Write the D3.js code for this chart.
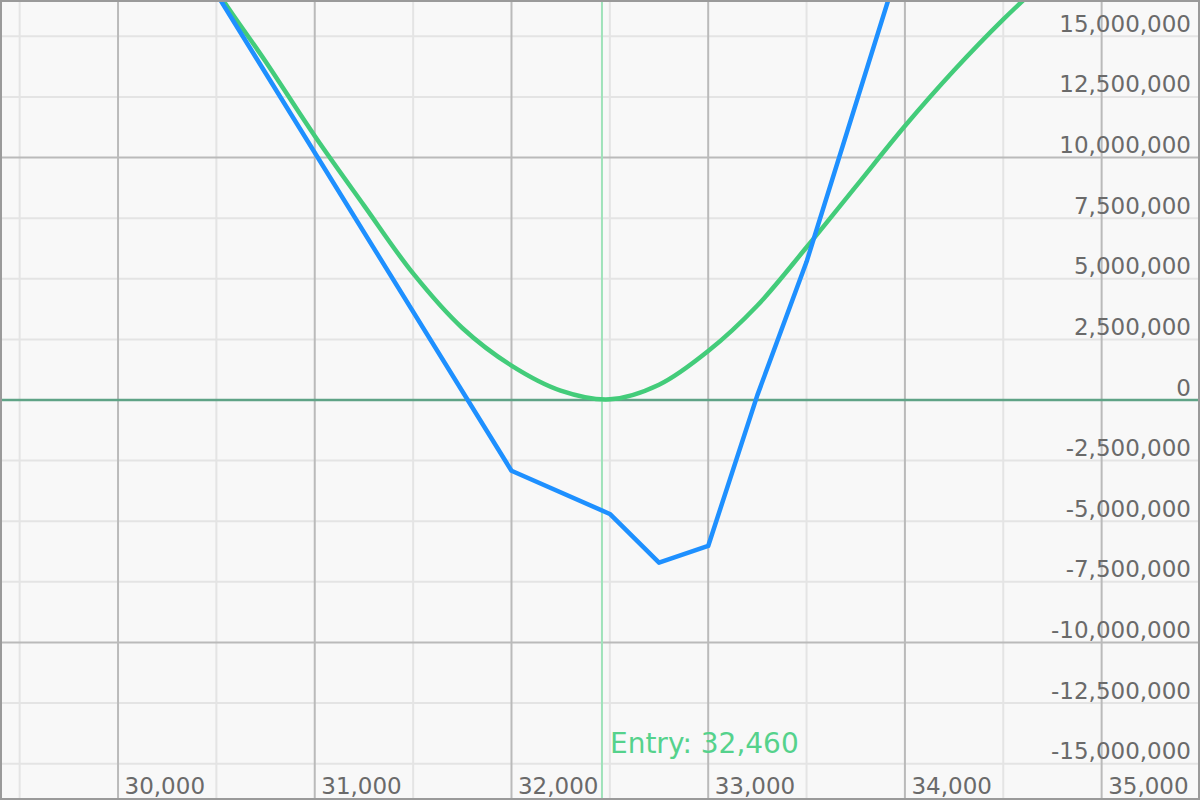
<!DOCTYPE html>
<html>
<head>
<meta charset="utf-8">
<script src="https://cdn.jsdelivr.net/npm/d3@7/dist/d3.min.js"></script>
<style>
  html, body { margin: 0; padding: 0; background: #fff; }
  svg { display: block; }
</style>
</head>
<body>
<svg id="chart" width="1200" height="800"></svg>
<script>
// ---- data ----
const xTickLabels = [30000, 31000, 32000, 33000, 34000, 35000];
const xMinorGrid = [29500, 30500, 31500, 32500, 33500, 34500, 35500];
const yTickLabels = [15e6, 12.5e6, 10e6, 7.5e6, 5e6, 2.5e6, 0, -2.5e6, -5e6, -7.5e6, -10e6, -12.5e6, -15e6];
const yMajorGrid = [10e6, -10e6];
const entryPrice = 32460;

// P&L at expiry (blue)
const expiryPrices = [29400, 32000, 32500, 32750, 33000, 33250, 33500, 34000];
const expiryPnl = [31.2e6, -2.92e6, -4.70e6, -6.71e6, -6.02e6, 0.2e6, 5.7e6, 18.7e6];

// P&L today (green)
const todayPrices = [29400, 30000, 30500, 30750, 31000, 31250, 31500, 31750, 32000, 32250, 32500, 32750, 33000, 33250, 33500, 33750, 34000, 34250, 34500, 34750, 35000, 35500];
const todayPnl = [31.3e6, 23.4e6, 16.9e6, 13.96e6, 10.89e6, 8.03e6, 5.22e6, 2.97e6, 1.42e6, 0.39e6, 0.03e6, 0.63e6, 2.02e6, 3.9e6, 6.3e6, 8.8e6, 11.3e6, 13.6e6, 15.7e6, 17.6e6, 19.4e6, 22.6e6];

// ---- chart ----
const W = 1200, H = 800;
const svg = d3.select("#chart");
const x = d3.scaleLinear().domain([29400, 35500]).range([0, W]);
const y = d3.scaleLinear().domain([-16.5e6, 16.5e6]).range([H, 0]);
const fmt0 = d3.format(",");
const fmt = d => fmt0(d).replace("\u2212", "-");
const FONT = "'DejaVu Sans', Verdana, sans-serif";

svg.append("defs").append("clipPath").attr("id", "clip")
  .append("rect").attr("x", 0).attr("y", 0).attr("width", W).attr("height", H);

svg.append("rect").attr("width", W).attr("height", H).attr("fill", "#f8f8f8");

const grid = svg.append("g");
grid.selectAll(".hmin").data(yTickLabels.filter(v => v !== 0 && !yMajorGrid.includes(v)))
  .join("line").attr("x1", 0).attr("x2", W)
  .attr("y1", d => y(d)).attr("y2", d => y(d))
  .attr("stroke", "#e4e4e4").attr("stroke-width", 2);
grid.selectAll(".vmin").data(xMinorGrid)
  .join("line").attr("y1", 0).attr("y2", H)
  .attr("x1", d => x(d)).attr("x2", d => x(d))
  .attr("stroke", "#e4e4e4").attr("stroke-width", 2);
grid.selectAll(".vmaj").data(xTickLabels)
  .join("line").attr("y1", 0).attr("y2", H)
  .attr("x1", d => x(d)).attr("x2", d => x(d))
  .attr("stroke", "#bababa").attr("stroke-width", 2);
grid.selectAll(".hmaj").data(yMajorGrid)
  .join("line").attr("x1", 0).attr("x2", W)
  .attr("y1", d => y(d)).attr("y2", d => y(d))
  .attr("stroke", "#bababa").attr("stroke-width", 2);

// zero line
svg.append("line").attr("x1", 0).attr("x2", W)
  .attr("y1", y(0)).attr("y2", y(0))
  .attr("stroke", "#5fa386").attr("stroke-width", 2.5);

// entry line
svg.append("line").attr("x1", x(entryPrice)).attr("x2", x(entryPrice))
  .attr("y1", 0).attr("y2", H)
  .attr("stroke", "#9fe2ba").attr("stroke-width", 2);

svg.append("text")
  .attr("x", x(entryPrice) + 8).attr("y", 753)
  .attr("font-family", FONT).attr("font-size", 28)
  .attr("fill", "#55d28c")
  .text("Entry: " + fmt(entryPrice));

// lines
const plot = svg.append("g").attr("clip-path", "url(#clip)");
const todayData = todayPrices.map((p, i) => [p, todayPnl[i]]);
const expiryData = expiryPrices.map((p, i) => [p, expiryPnl[i]]);

plot.append("path").datum(todayData)
  .attr("fill", "none").attr("stroke", "#43cc7a").attr("stroke-width", 4.5)
  .attr("stroke-linejoin", "round")
  .attr("d", d3.line().x(d => x(d[0])).y(d => y(d[1])).curve(d3.curveCatmullRom.alpha(0.5)));

plot.append("path").datum(expiryData)
  .attr("fill", "none").attr("stroke", "#1e90ff").attr("stroke-width", 4.5)
  .attr("stroke-linejoin", "round")
  .attr("d", d3.line().x(d => x(d[0])).y(d => y(d[1])));

// x axis labels
const xAxis = svg.append("g").attr("transform", `translate(0,${H})`)
  .call(d3.axisBottom(x).tickValues(xTickLabels).tickSize(0).tickFormat(fmt));
xAxis.select(".domain").remove();
xAxis.selectAll("text")
  .attr("font-family", FONT).attr("font-size", 23).attr("fill", "#6a6a6a")
  .attr("text-anchor", "start").attr("x", 6).attr("y", -6).attr("dy", 0);

// y axis labels
const yAxis = svg.append("g").attr("transform", `translate(1191,0)`)
  .call(d3.axisLeft(y).tickValues(yTickLabels).tickSize(0).tickFormat(fmt));
yAxis.select(".domain").remove();
yAxis.selectAll("text")
  .attr("font-family", FONT).attr("font-size", 23).attr("fill", "#6a6a6a")
  .attr("text-anchor", "end").attr("x", 0).attr("dy", -5);

// border
svg.append("rect").attr("x", 1).attr("y", 1).attr("width", W - 2).attr("height", H - 2)
  .attr("fill", "none").attr("stroke", "#9a9a9a").attr("stroke-width", 2);
</script>
</body>
</html>
